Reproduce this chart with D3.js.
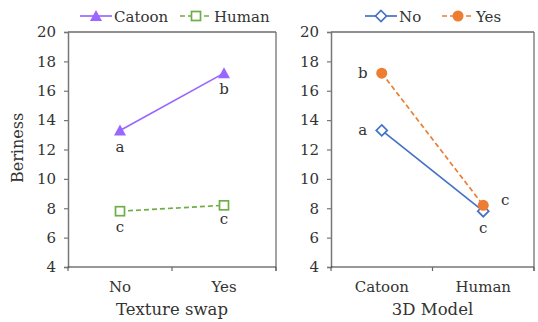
<!DOCTYPE html>
<html><head><meta charset="utf-8">
<script src="https://cdn.jsdelivr.net/npm/d3@7"></script>
<style>body{margin:0;background:#fff}svg text{font-family:"DejaVu Serif",serif;fill:#333}</style>
</head><body><svg id="c" width="538" height="322"></svg>
<script>
// Left panel: Texture swap
const leftCats = ["No", "Yes"];
const leftSeries = ["Catoon", "Human"];
const leftCatoon = [13.3, 17.2];
const leftHuman = [7.8, 8.2];
const leftCatoonLetters = ["a", "b"];
const leftHumanLetters = ["c", "c"];
// Right panel: 3D Model
const rightCats = ["Catoon", "Human"];
const rightSeries = ["No", "Yes"];
const rightNo = [13.3, 7.8];
const rightYes = [17.2, 8.2];
const rightNoLetters = ["a", "c"];
const rightYesLetters = ["b", "c"];
const yTicks = [4, 6, 8, 10, 12, 14, 16, 18, 20];

const svg = d3.select("#c");
const plotTop = 32, plotBottom = 267;
const y = d3.scaleLinear().domain([4, 20]).range([plotBottom, plotTop]);

function marker(g, shape, cx, cy, color) {
  if (shape === "triangle") {
    g.append("path").attr("d", `M${cx},${cy - 6}L${cx + 6},${cy + 5}L${cx - 6},${cy + 5}Z`).attr("fill", color);
  } else if (shape === "square") {
    g.append("rect").attr("x", cx - 4.5).attr("y", cy - 4.5).attr("width", 9).attr("height", 9).attr("fill", "#fff").attr("stroke", color).attr("stroke-width", 1.7);
  } else if (shape === "diamond") {
    g.append("path").attr("d", `M${cx},${cy - 5.5}L${cx + 5.5},${cy}L${cx},${cy + 5.5}L${cx - 5.5},${cy}Z`).attr("fill", "#fff").attr("stroke", color).attr("stroke-width", 1.7);
  } else {
    g.append("circle").attr("cx", cx).attr("cy", cy).attr("r", 5.5).attr("fill", color);
  }
}

function panel(x0, x1, cats, title, series, legendX) {
  const g = svg.append("g");
  const x = d3.scaleBand().domain(cats).range([x0, x1]);
  g.append("line").attr("x1", x0).attr("x2", x1).attr("y1", plotTop).attr("y2", plotTop).attr("stroke", "#222").attr("stroke-width", 1.2);
  g.append("line").attr("x1", x1).attr("x2", x1).attr("y1", plotTop).attr("y2", plotBottom + 4).attr("stroke", "#666").attr("stroke-width", 1.2);
  const ya = g.append("g").attr("transform", `translate(${x0},0)`)
    .call(d3.axisLeft(y).tickValues(yTicks).tickSize(4).tickPadding(8));
  ya.select(".domain").attr("stroke", "#777").attr("stroke-width", 1.5);
  ya.selectAll(".tick line").attr("stroke", "#777").attr("stroke-width", 1.2);
  ya.selectAll("text").attr("font-size", 15).attr("fill", "#333").style("font-family", "DejaVu Serif");
  g.append("line").attr("x1", x0).attr("x2", x1).attr("y1", plotBottom).attr("y2", plotBottom).attr("stroke", "#333").attr("stroke-width", 1.2);
  [x0, (x0 + x1) / 2, x1].forEach(t => g.append("line").attr("x1", t).attr("x2", t).attr("y1", plotBottom).attr("y2", plotBottom + 4).attr("stroke", "#666").attr("stroke-width", 1.2));
  cats.forEach(c => g.append("text").attr("x", x(c) + x.bandwidth() / 2).attr("y", 292).attr("text-anchor", "middle").attr("font-size", 15).text(c));
  g.append("text").attr("x", (x0 + x1) / 2).attr("y", 315).attr("text-anchor", "middle").attr("font-size", 16.5).text(title);

  series.forEach(s => {
    const pts = s.values.map((v, i) => [x(cats[i]) + x.bandwidth() / 2, y(v)]);
    g.append("path").attr("d", d3.line()(pts)).attr("fill", "none").attr("stroke", s.color).attr("stroke-width", 1.7)
      .attr("stroke-dasharray", s.dash ? "5,3" : null);
    pts.forEach(p => marker(g, s.shape, p[0], p[1], s.color));
    s.letters.forEach((l, i) => g.append("text").attr("x", pts[i][0] + s.loff[i][0]).attr("y", pts[i][1] + s.loff[i][1])
      .attr("text-anchor", "middle").attr("font-size", 15).text(l));
  });
  let lx = legendX;
  series.forEach(s => {
    const ly = 16;
    g.append("line").attr("x1", lx).attr("x2", lx + 32).attr("y1", ly).attr("y2", ly).attr("stroke", s.color).attr("stroke-width", 1.7)
      .attr("stroke-dasharray", s.dash ? "5,3" : null);
    marker(g, s.shape, lx + 16, ly, s.color);
    g.append("text").attr("x", lx + 34).attr("y", ly + 5.5).attr("font-size", 15).text(s.name);
    lx += s.legW;
  });
}

svg.append("text").attr("transform", "translate(23,148) rotate(-90)").attr("text-anchor", "middle").attr("font-size", 16).text("Beriness");

panel(68, 276, leftCats, "Texture swap", [
  {name: leftSeries[0], values: leftCatoon, letters: leftCatoonLetters, color: "#9966FF", shape: "triangle", dash: false, loff: [[0, 22], [0, 21]], legW: 100},
  {name: leftSeries[1], values: leftHuman, letters: leftHumanLetters, color: "#70AD47", shape: "square", dash: true, loff: [[0, 21], [0, 19]], legW: 100}
], 80);

panel(331, 534, rightCats, "3D Model", [
  {name: rightSeries[0], values: rightNo, letters: rightNoLetters, color: "#4472C4", shape: "diamond", dash: false, loff: [[-19, 5], [0, 22]], legW: 77},
  {name: rightSeries[1], values: rightYes, letters: rightYesLetters, color: "#ED7D31", shape: "circle", dash: true, loff: [[-19, 5], [22, 0]], legW: 80}
], 365);
</script></body></html>
